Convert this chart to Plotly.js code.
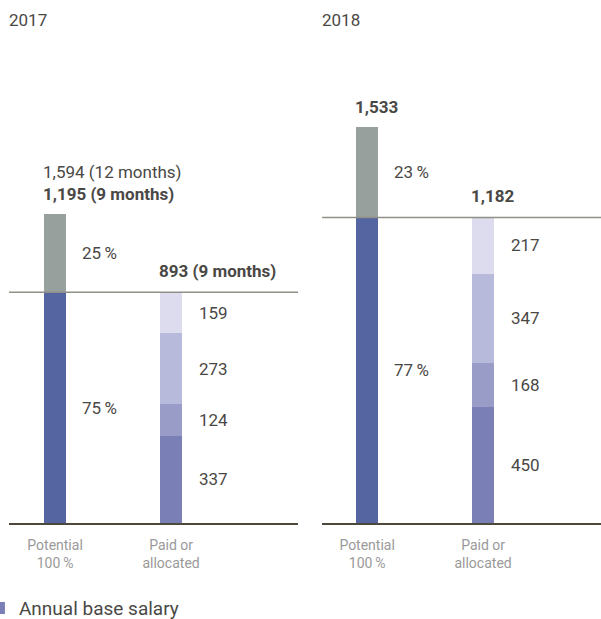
<!DOCTYPE html>
<html>
<head>
<meta charset="utf-8">
<script src="https://cdn.plot.ly/plotly-3.0.1.min.js"></script>
<style>html,body{margin:0;padding:0;background:#fff;}#chart{width:601px;height:619px;}</style>
</head>
<body>
<div id="chart"></div>
<script>
// ---- data ----
const years = ["2017", "2018"];
const categories = ["Potential<br>100\u2009%", "Paid or<br>allocated"];
const potentialFixed = [893, 1182];      // blue part of potential bar
const potentialVariable = [302, 351];    // gray part of potential bar
const potentialTotals = ["1,195 (9 months)", "1,533"];
const potentialNote = ["1,594 (12 months)", ""];
const fixedShare = ["75\u2009%", "77\u2009%"];
const variableShare = ["25\u2009%", "23\u2009%"];
const paidNames = ["Annual base salary", "Other benefits", "Short-term variable", "Long-term variable"];
const paid2017 = [337, 124, 273, 159];
const paid2018 = [450, 168, 347, 217];
const paidTotals = ["893 (9 months)", "1,182"];

const paidColors = ["#7a7fb6", "#9a9cc8", "#b8badb", "#dcdcee"];
const fixedColor = "#5465a1";
const varColor = "#97a09d";
const textColor = "#4a4845";
const font = "Roboto, 'Liberation Sans', sans-serif";
const fs = 17;
const barW = 0.19;

const paidByYear = [paid2017, paid2018];
const traces = [];
const annotations = [];
const shapes = [];

years.forEach((yr, i) => {
  const xa = i === 0 ? "x" : "x2";
  const ya = i === 0 ? "y" : "y2";
  traces.push({type: "bar", x: [0], y: [potentialFixed[i]], xaxis: xa, yaxis: ya, width: barW,
    marker: {color: fixedColor}, name: "Fixed", showlegend: false, hoverinfo: "none"});
  traces.push({type: "bar", x: [0], y: [potentialVariable[i]], xaxis: xa, yaxis: ya, width: barW,
    marker: {color: varColor}, name: "Variable", showlegend: false, hoverinfo: "none"});
  let cum = 0;
  paidByYear[i].forEach((v, k) => {
    traces.push({type: "bar", x: [1], y: [v], xaxis: xa, yaxis: ya, width: barW,
      marker: {color: paidColors[k]}, name: paidNames[k], legendgroup: paidNames[k],
      showlegend: (i === 0 && k === 0), hoverinfo: "none"});
    annotations.push({xref: xa, yref: ya, x: 1, y: cum + v / 2, text: String(v), showarrow: false,
      xanchor: "left", yanchor: "middle", xshift: 26, font: {family: font, size: fs, color: textColor}});
    cum += v;
  });
  const total = potentialFixed[i] + potentialVariable[i];
  annotations.push({xref: xa, yref: ya, x: 0, y: potentialFixed[i] / 2, text: fixedShare[i], showarrow: false,
    xanchor: "left", yanchor: "middle", xshift: 25, font: {family: font, size: fs, color: textColor}});
  annotations.push({xref: xa, yref: ya, x: 0, y: potentialFixed[i] + potentialVariable[i] / 2, text: variableShare[i], showarrow: false,
    xanchor: "left", yanchor: "middle", xshift: 25, font: {family: font, size: fs, color: textColor}});
  annotations.push({xref: xa, yref: ya, x: 0, y: total, text: "<b>" + potentialTotals[i] + "</b>", showarrow: false,
    xanchor: "left", yanchor: "middle", xshift: -14, yshift: 20, font: {family: font, size: fs, color: textColor}});
  if (potentialNote[i]) {
    annotations.push({xref: xa, yref: ya, x: 0, y: total, text: potentialNote[i], showarrow: false,
      xanchor: "left", yanchor: "middle", xshift: -14, yshift: 42, font: {family: font, size: fs, color: textColor}});
  }
  annotations.push({xref: xa, yref: ya, x: 1, y: cum, text: "<b>" + paidTotals[i] + "</b>", showarrow: false,
    xanchor: "left", yanchor: "middle", xshift: -14, yshift: 21, font: {family: font, size: fs, color: textColor}});
  annotations.push({xref: xa + " domain", yref: "paper", x: 0, y: 1.086, text: yr, showarrow: false,
    xanchor: "left", yanchor: "middle", xshift: -2, font: {family: font, size: fs, color: textColor}});
  shapes.push({type: "line", xref: xa + " domain", yref: ya, x0: 0, x1: 1, y0: potentialFixed[i], y1: potentialFixed[i],
    line: {color: "#908f88", width: 1.5}});
});

const xBase = {
  tickmode: "array", tickvals: [0, 1], ticktext: categories, showgrid: false, zeroline: false,
  showline: true, linecolor: "#4d483c", linewidth: 2, ticks: "", ticklabelstandoff: 8, automargin: false,
  tickfont: {family: font, size: 14, color: "#9a9a9a"}, fixedrange: true
};
const yBase = {range: [0, 1791], showgrid: false, zeroline: false, showline: false, showticklabels: false, fixedrange: true, automargin: false};

const layout = {
  width: 601, height: 619,
  margin: {l: 0, r: 0, t: 60, b: 96, autoexpand: false},
  barmode: "stack",
  paper_bgcolor: "#fff", plot_bgcolor: "#fff",
  xaxis: Object.assign({}, xBase, {domain: [0.015, 0.496], range: [-0.397, 2.095], anchor: "y"}),
  xaxis2: Object.assign({}, xBase, {domain: [0.536, 1], range: [-0.388, 2.017], anchor: "y2"}),
  yaxis: Object.assign({}, yBase, {anchor: "x"}),
  yaxis2: Object.assign({}, yBase, {anchor: "x2"}),
  showlegend: true,
  legend: {orientation: "h", x: -0.035, xanchor: "left", y: -0.184, yanchor: "middle",
    font: {family: font, size: 19, color: textColor}},
  annotations: annotations,
  shapes: shapes
};

Plotly.newPlot("chart", traces, layout, {displayModeBar: false, staticPlot: true});
</script>
</body>
</html>
